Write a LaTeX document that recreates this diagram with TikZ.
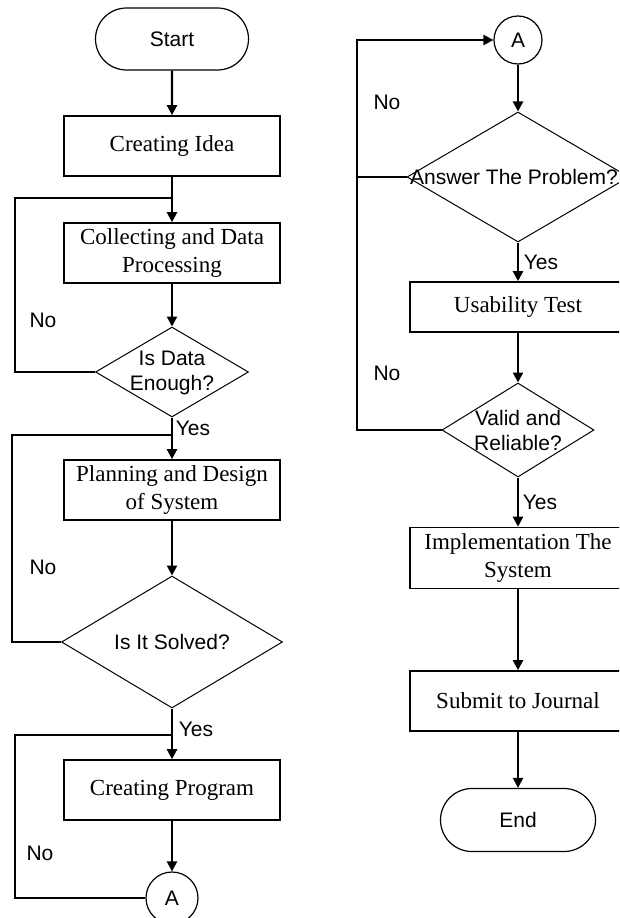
\documentclass[tikz,border=0pt]{standalone}
\usepackage{fontspec}
\setmainfont{Liberation Serif}
\newfontfamily\arialf{Liberation Sans}
\usetikzlibrary{arrows.meta,shapes.geometric,shapes.misc}
\begin{document}
\begin{tikzpicture}[x=1pt,y=-1pt,
  procbox/.style={draw,line width=1.6pt,rectangle,minimum width=216pt,minimum height=60pt,inner sep=0pt,align=center,font=\fontsize{23}{28}\selectfont},
  termbox/.style={draw,line width=1.2pt,rounded rectangle,minimum width=153pt,minimum height=62pt,inner sep=0pt,font=\arialf\fontsize{21}{24}\selectfont},
  decbox/.style={draw,line width=1pt,diamond,inner sep=0pt},
  dectext/.style={align=center,inner sep=0pt,font=\arialf\fontsize{21}{25}\selectfont},
  conn/.style={draw,line width=1.2pt,circle,inner sep=0pt,font=\arialf\fontsize{21}{24}\selectfont},
  flow/.style={line width=2.2pt,-{Triangle[length=10pt,width=10pt]}},
  loopline/.style={line width=2.2pt},
  lbl/.style={inner sep=0pt,font=\arialf\fontsize{21}{24}\selectfont}]
\useasboundingbox (0,0) rectangle (619,918);
\clip (0,0) rectangle (619,918);
% left column
\node[termbox] (start) at (172,39) {Start};
\node[procbox] (idea) at (172,146) {Creating Idea};
\node[procbox] (collect) at (172,253) {Collecting and Data\\Processing};
\node[decbox,minimum width=153pt,minimum height=90pt] (d1) at (172,372) {};
\node[dectext] (d1t) at (172,373) {Is Data\\Enough?};
\node[procbox] (plan) at (172,490) {Planning and Design\\of System};
\node[decbox,minimum width=221pt,minimum height=132pt] (d2) at (172,642) {};
\node[dectext] (d2t) at (172,642) {Is It Solved?};
\node[procbox] (prog) at (172,790) {Creating Program};
\node[conn,minimum size=52pt] (A1) at (172,898) {A};
% right column
\node[conn,minimum size=48pt] (A2) at (518,40) {A};
\node[decbox,minimum width=222pt,minimum height=130pt] (d3) at (518,177) {};
\node[dectext] (d3t) at (514,177) {Answer The Problem?};
\node[procbox,minimum height=50pt] (usab) at (518,307) {Usability Test};
\node[decbox,minimum width=152pt,minimum height=94pt] (d4) at (518,430) {};
\node[dectext] (d4t) at (518,430) {Valid and\\Reliable?};
\node[procbox,minimum height=61pt] (impl) at (518,558) {Implementation The\\System};
\node[procbox] (submit) at (518,701) {Submit to Journal};
\node[termbox,minimum width=155pt,minimum height=63pt] (stop) at (518,820) {End};
% junctions
\coordinate (j1) at (172,198);
\coordinate (k1) at (15,198);
\coordinate (j2) at (172,435);
\coordinate (k2) at (12,435);
\coordinate (j3) at (172,735);
\coordinate (k3) at (15,735);
\coordinate (k4) at (357,40);
\coordinate (k5) at (357,177);
% connectors left
\draw[flow] (start) -- (idea);
\draw[flow] (idea) -- (collect);
\draw[flow] (collect) -- (d1);
\draw[loopline] (d1.west) -| (k1) -- (j1);
\draw[flow] (d1) -- (plan);
\draw[loopline] (d2.west) -| (k2) -- (j2);
\draw[flow] (plan) -- (d2);
\draw[flow] (d2) -- (prog);
\draw[loopline] (A1.west) -| (k3) -- (j3);
\draw[flow] (prog) -- (A1);
% connectors right
\draw[flow] (d4.west) -| (k4) -- (A2.west);
\draw[loopline] (d3.west) -- (k5);
\draw[flow] (A2) -- (d3);
\draw[flow] (d3) -- (usab);
\draw[flow] (usab) -- (d4);
\draw[flow] (d4) -- (impl);
\draw[flow] (impl) -- (submit);
\draw[flow] (submit) -- (stop);
% labels
\node[lbl] (no1) at (43,320) {No};
\node[lbl] (no2) at (43,567) {No};
\node[lbl] (no3) at (40,853) {No};
\node[lbl] (no4) at (387,102) {No};
\node[lbl] (no5) at (387,373) {No};
\node[lbl] (yes1) at (193,428) {Yes};
\node[lbl] (yes2) at (196,729) {Yes};
\node[lbl] (yes3) at (541,262) {Yes};
\node[lbl] (yes4) at (540,502) {Yes};
\end{tikzpicture}
\end{document}
